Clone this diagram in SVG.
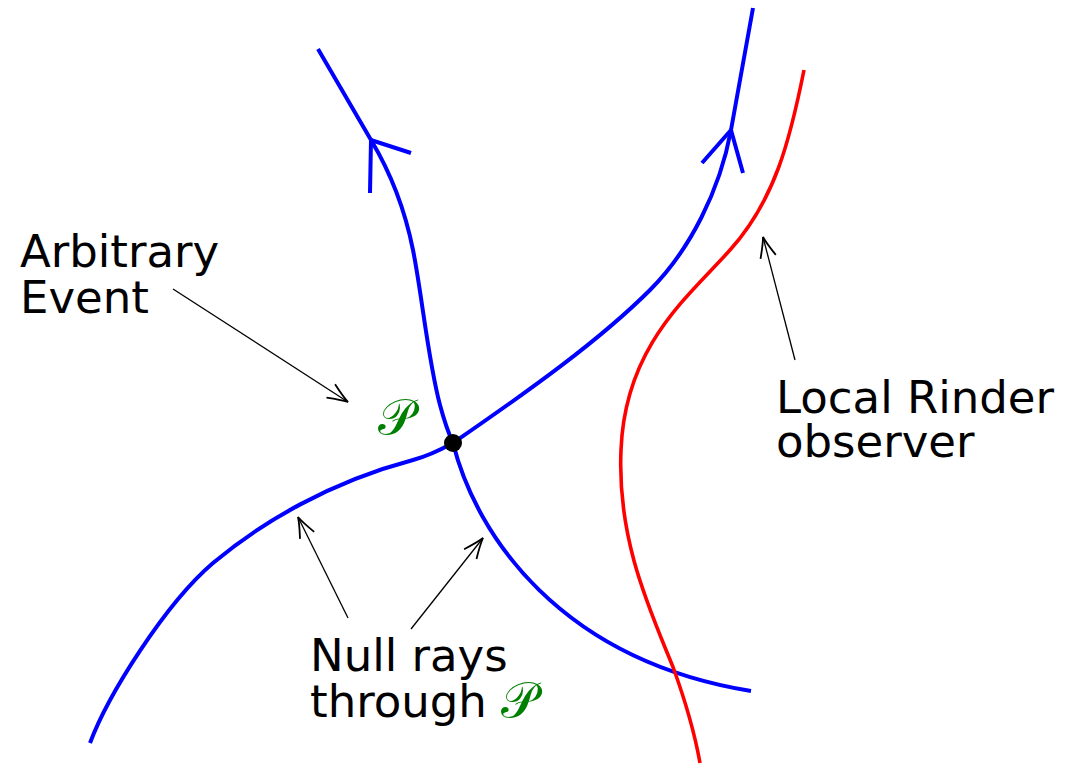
<svg xmlns="http://www.w3.org/2000/svg" width="1086" height="768" viewBox="0 0 1086 768">
<style>
.ray{fill:none;stroke:#0000ff;stroke-width:4;stroke-linecap:butt;stroke-linejoin:miter}
.obs{fill:none;stroke:#ff0000;stroke-width:3.6}
.ann{fill:none;stroke:#000;stroke-width:1.3}
.lbl{font-family:"DejaVu Sans","Liberation Sans",sans-serif;font-size:45px;fill:#000}
.sym{font-family:"DejaVu Sans","DejaVu Serif","Noto Sans",serif;font-size:50px;fill:#008000}
</style>
<defs>
<marker id="ah" markerUnits="userSpaceOnUse" orient="auto" refX="0" refY="0" markerWidth="30" markerHeight="30" overflow="visible">
<path d="M-20.5,-7.9 Q-7,-1.8 0,0 Q-7,1.8 -20.5,7.9" fill="none" stroke="#000" stroke-width="1.8"/>
</marker>
</defs>
<g id="rays">
<g id="ray1">
<path class="ray" d="M318,49 L371,140 C392,175 405,210 413,250 C422,295 428,360 440,405 C444,420 448,432 453,443 C476,535 560,660 751,691"/>
<path class="ray" d="M370,193 L371,140 L411,153"/>
</g>
<g id="ray2">
<path class="ray" d="M90,743 C108,695 165,604 213,563 C262,522 330,482 413,460 C428,456 442,449 453,443 C530,390 600,340 650,290 C690,250 720,190 731,130 L753,8"/>
<path class="ray" d="M702,163 L731,130 L743,173"/>
</g>
</g>
<g id="observer">
<path class="obs" d="M804,70 C790,140 775,200 730,250 C690,295 625,345 621,450 C617,540 650,610 673,667 C685,700 695,735 700,763"/>
</g>
<g id="event">
<circle cx="453" cy="443" r="9" fill="#000"/>
<text class="sym" x="378" y="434">𝒫</text>
</g>
<g id="connectors">
<line class="ann" x1="173" y1="289" x2="348" y2="402" marker-end="url(#ah)"/>
<line class="ann" x1="348" y1="618" x2="298" y2="517" marker-end="url(#ah)"/>
<line class="ann" x1="411" y1="629" x2="483" y2="538" marker-end="url(#ah)"/>
<line class="ann" x1="795" y1="360" x2="763" y2="237" marker-end="url(#ah)"/>
</g>
<g id="label-event">
<text class="lbl" x="20" y="267">Arbitrary</text>
<text class="lbl" x="20" y="313">Event</text>
</g>
<g id="label-null">
<text class="lbl" x="310" y="671">Null rays</text>
<text class="lbl" x="310" y="717">through <tspan class="sym">𝒫</tspan></text>
</g>
<g id="label-observer">
<text class="lbl" x="776" y="413">Local Rinder</text>
<text class="lbl" x="776" y="457">observer</text>
</g>
</svg>
